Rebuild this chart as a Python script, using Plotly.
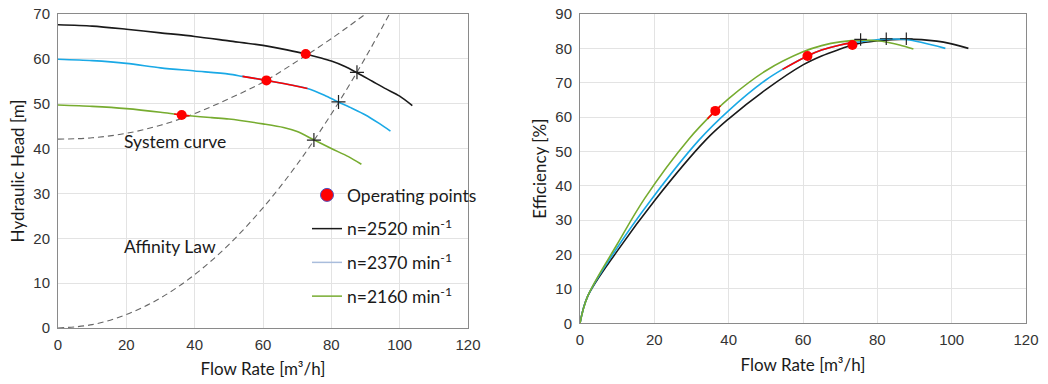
import plotly.graph_objects as go

# ---------------- Head curves (left) ----------------
q_2520 = [0, 10, 20, 30, 40, 50, 60, 67, 72.5, 77, 80, 84, 87.5, 92, 96, 100, 103.7]
h_2520 = [67.6, 67.3, 66.6, 65.8, 65.0, 64.0, 63.0, 62.0, 61.1, 60.2, 59.5, 58.3, 56.9, 55.0, 53.3, 51.7, 49.6]

q_2370 = [0, 10, 20, 30, 40, 50, 54, 61, 66, 73, 78, 82, 86, 90, 94, 97.3]
h_2370 = [59.9, 59.6, 59.0, 58.0, 57.3, 56.6, 56.1, 55.2, 54.5, 53.4, 51.9, 50.4, 49.0, 47.5, 45.6, 43.9]

q_2160 = [0, 10, 20, 30, 36.2, 45, 50, 60, 66, 70, 75, 80, 85, 88.8]
h_2160 = [49.7, 49.4, 48.9, 48.1, 47.5, 46.9, 46.6, 45.5, 44.7, 43.8, 41.9, 40.0, 38.2, 36.5]

# red (operating range) segments on head curves
q_red_h1 = [54, 61, 66, 73]
h_red_h1 = [56.1, 55.2, 54.5, 53.4]
q_red_h2 = [34, 36.2, 38.5]
h_red_h2 = [47.7, 47.5, 47.3]

# system curve & affinity law
q_sys = [0, 10, 20, 30, 40, 50, 60, 70, 80, 90]
h_sys = [42.1, 42.4, 43.4, 45.2, 47.8, 51.1, 54.8, 59.5, 64.5, 70.0]
q_aff = [0, 10, 20, 30, 40, 50, 60, 70, 80, 90, 97]
h_aff = [0, 0.75, 3.0, 6.7, 11.9, 18.6, 26.8, 36.5, 47.7, 60.3, 70.0]

# operating points and affinity intersections
q_op = [36.2, 61.0, 72.5]
h_op = [47.5, 55.2, 61.1]
q_bep = [74.9, 82.1, 87.5]
h_bep = [41.9, 50.4, 57.0]

# ---------------- Efficiency curves (right) ----------------
q_e2520 = [0, 2, 10, 20.2, 33.8, 40, 50, 60, 65, 70, 73.3, 80, 88, 96, 100, 104.5]
e_2520 = [0, 7.7, 21.0, 35.9, 53.3, 59.5, 68.0, 75.2, 77.8, 79.8, 81.0, 82.2, 82.7, 82.1, 81.3, 80.0]

q_e2370 = [0, 2, 10, 19.1, 32, 40, 50, 54.5, 61.2, 65, 70, 73, 78, 82.5, 88, 92, 98.3]
e_2370 = [0, 7.7, 22.0, 35.9, 53.3, 61.9, 70.8, 73.9, 77.8, 79.5, 81.0, 81.6, 82.3, 82.7, 82.5, 81.7, 80.0]

q_e2160 = [0, 2, 10, 17.5, 29.2, 36.4, 40, 50, 60, 65, 70, 76, 80, 83, 86, 89.7]
e_2160 = [0, 7.7, 23.0, 36.5, 53.5, 61.8, 65.4, 73.5, 79.0, 80.8, 81.9, 82.4, 82.2, 81.7, 81.0, 79.8]

q_red_e1 = [54.5, 61.2, 65, 70, 73]
e_red_e1 = [73.9, 77.8, 79.5, 81.0, 81.6]
q_red_e2 = [34.3, 36.4, 37.8]
e_red_e2 = [59.5, 61.8, 63.3]

q_eop = [36.4, 61.2, 73.3]
e_op = [61.8, 77.8, 81.0]
q_ebep = [75.5, 82.4, 87.8]
e_ebep = [82.6, 82.8, 82.8]

legend_labels = ["Operating points", "n=2520 min<sup>-1</sup>", "n=2370 min<sup>-1</sup>", "n=2160 min<sup>-1</sup>"]

BLACK = "#1a1a1a"
BLUE = "#1aa9e6"
GREEN = "#77ac30"
RED = "#ff0000"
DASH = "#666666"

# layout geometry (pixels)
W, H = 1048, 384
ML, MR, MT, MB = 58, 22, 14, 56
PW = W - ML - MR
PH = H - MT - MB

def px_x(p):
    return (p - ML) / PW

def px_y(p):
    return (H - MB - p) / PH

fig = go.Figure()

def line(x, y, color, xa, ya, width=1.6, dash=None, smoothing=1.0):
    fig.add_trace(go.Scatter(x=x, y=y, mode="lines", xaxis=xa, yaxis=ya, showlegend=False,
                             line=dict(color=color, width=width, dash=dash, shape="spline",
                                       smoothing=smoothing),
                             hoverinfo="skip"))

# left plot
line(q_sys, h_sys, DASH, "x", "y", width=1.1, dash="6px,4px")
line(q_aff, h_aff, DASH, "x", "y", width=1.1, dash="6px,4px")
line(q_2520, h_2520, BLACK, "x", "y", smoothing=0.8)
line(q_2370, h_2370, BLUE, "x", "y", smoothing=0.8)
line(q_2160, h_2160, GREEN, "x", "y", smoothing=0.8)
line(q_red_h1, h_red_h1, RED, "x", "y", smoothing=0.8)
line(q_red_h2, h_red_h2, RED, "x", "y", smoothing=0.8)
fig.add_trace(go.Scatter(x=q_bep, y=h_bep, mode="markers", xaxis="x", yaxis="y", showlegend=False,
                         marker=dict(symbol="cross-thin", size=10, line=dict(color="#222222", width=1.2))))
fig.add_trace(go.Scatter(x=q_op, y=h_op, mode="markers", xaxis="x", yaxis="y", showlegend=False,
                         marker=dict(color=RED, size=10)))

# right plot
line(q_e2520, e_2520, BLACK, "x2", "y2")
line(q_e2370, e_2370, BLUE, "x2", "y2")
line(q_e2160, e_2160, GREEN, "x2", "y2")
line(q_red_e1, e_red_e1, RED, "x2", "y2")
line(q_red_e2, e_red_e2, RED, "x2", "y2")
fig.add_trace(go.Scatter(x=q_ebep, y=e_ebep, mode="markers", xaxis="x2", yaxis="y2", showlegend=False,
                         marker=dict(symbol="cross-thin", size=9, line=dict(color="#222222", width=1.2))))
fig.add_trace(go.Scatter(x=q_eop, y=e_op, mode="markers", xaxis="x2", yaxis="y2", showlegend=False,
                         marker=dict(color=RED, size=10)))

# legend entries
fig.add_trace(go.Scatter(x=[None], y=[None], mode="markers", name=legend_labels[0], legendgroup="a",
                         marker=dict(color=RED, size=13, line=dict(color="#5050c0", width=1))))
fig.add_trace(go.Scatter(x=[None], y=[None], mode="lines", name=legend_labels[1], legendgroup="b",
                         line=dict(color=BLACK, width=1.5)))
fig.add_trace(go.Scatter(x=[None], y=[None], mode="lines", name=legend_labels[2], legendgroup="c",
                         line=dict(color="#a9bddc", width=1.5)))
fig.add_trace(go.Scatter(x=[None], y=[None], mode="lines", name=legend_labels[3], legendgroup="d",
                         line=dict(color=GREEN, width=1.5)))

TICKF = dict(family="Liberation Sans, Arial", size=15, color="#333333")
TITLEF = dict(family="Lato, Open Sans", size=17, color="#1a1a1a")
TEXTF = dict(family="Lato, Open Sans", size=17.5, color="#1a1a1a")

axis_common = dict(showgrid=True, gridcolor="#e3e3e3", gridwidth=1, showline=True, linecolor="#8a8a8a",
                   linewidth=1, mirror=True, ticks="", zeroline=False, tickfont=TICKF, automargin=False)

fig.update_layout(
    width=W, height=H,
    margin=dict(l=ML, r=MR, t=MT, b=MB, autoexpand=False),
    paper_bgcolor="white", plot_bgcolor="white",
    xaxis=dict(domain=[0, px_x(468)], range=[0, 120], dtick=20, anchor="y", ticklabelstandoff=3,
               title=dict(text="Flow Rate [m³/h]", font=TITLEF, standoff=11), **axis_common),
    yaxis=dict(domain=[0, 1], range=[0, 70], dtick=10, anchor="x", ticklabelstandoff=4,
               title=dict(text="Hydraulic Head [m]", font=TITLEF, standoff=4), **axis_common),
    xaxis2=dict(domain=[px_x(580), 1], range=[0, 120], dtick=20, anchor="y2", ticklabelstandoff=3,
                title=dict(text="Flow Rate [m³/h]", font=TITLEF, standoff=11), **axis_common),
    yaxis2=dict(domain=[px_y(323.3), 1], range=[0, 90], dtick=10, anchor="x2", ticklabelstandoff=4,
                title=dict(text="Efficiency [%]", font=TITLEF, standoff=4), **axis_common),
    showlegend=True,
    legend=dict(x=px_x(307), y=px_y(177), xanchor="left", yanchor="top", bgcolor="rgba(0,0,0,0)",
                font=TEXTF, tracegroupgap=8, itemwidth=30),
    annotations=[
        dict(x=18.7, y=41.5, xref="x", yref="y", text="System curve", showarrow=False, xanchor="left",
             yanchor="middle", font=TEXTF),
        dict(x=18.7, y=18.1, xref="x", yref="y", text="Affinity Law", showarrow=False, xanchor="left",
             yanchor="middle", font=TEXTF),
    ],
)

fig.write_html("out.html", config={"displayModeBar": False},
               post_script="document.body.style.margin='0px';")
